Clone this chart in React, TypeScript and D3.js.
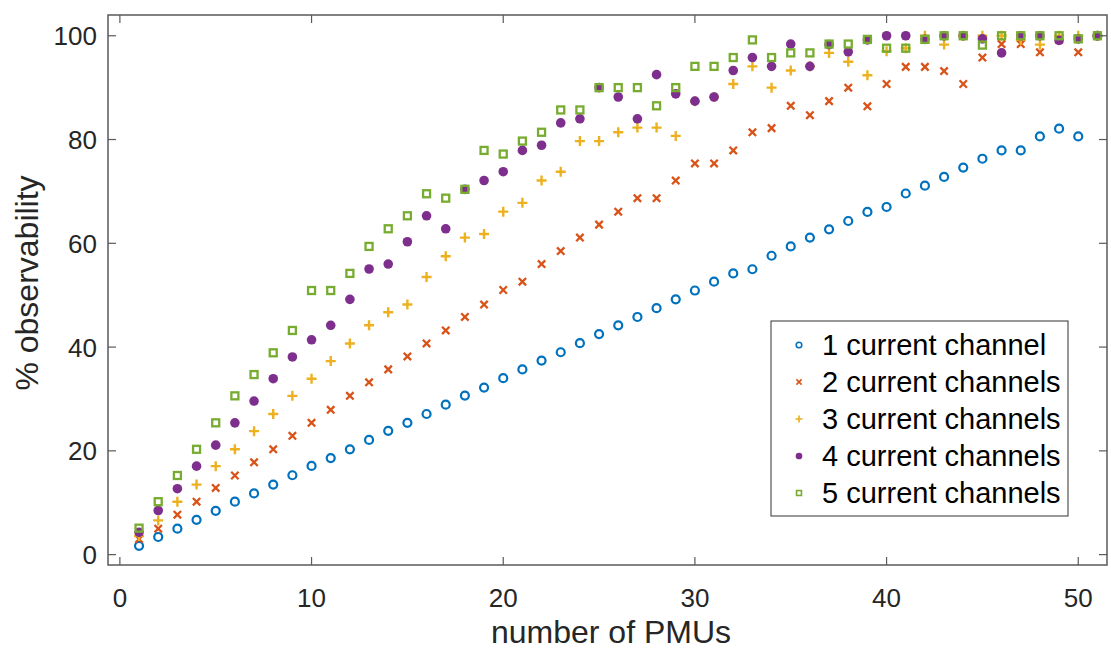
import React from "react";
import * as d3 from "d3";

// number of PMUs
const pmus = d3.range(1, 52);

// % observability, one array per number of current channels
const oneChannel = [
  1.7, 3.4, 5.0, 6.7, 8.45, 10.2, 11.8, 13.5, 15.3, 17.1, 18.6, 20.3, 22.1, 23.85, 25.4, 27.1, 28.9,
  30.65, 32.2, 34.0, 35.7, 37.4, 39.0, 40.75, 42.5, 44.2, 45.8, 47.5, 49.2, 50.9, 52.6, 54.2, 55.0,
  57.6, 59.4, 61.1, 62.7, 64.3, 66.05, 67.0, 69.6, 71.1, 72.8, 74.6, 76.3, 77.9, 77.9, 80.6, 82.1,
  80.6, 100,
];
const twoChannels = [
  3.0, 5.0, 7.7, 10.2, 12.85, 15.25, 17.8, 20.3, 22.9, 25.4, 27.9, 30.6, 33.2, 35.7, 38.2, 40.7, 43.2,
  45.8, 48.2, 51.0, 52.6, 56.0, 58.5, 61.1, 63.6, 66.1, 68.7, 68.7, 72.1, 75.4, 75.4, 77.9, 81.4,
  82.2, 86.5, 84.7, 87.4, 90.0, 86.4, 90.7, 94.0, 94.0, 93.2, 90.7, 95.8, 98.4, 98.4, 96.8, 99.2,
  96.8, 100,
];
const threeChannels = [
  3.6, 6.6, 10.2, 13.5, 17.05, 20.3, 23.8, 27.1, 30.6, 33.9, 37.3, 40.7, 44.2, 46.7, 48.2, 53.5, 57.5,
  61.1, 61.8, 66.1, 67.8, 72.1, 73.8, 79.7, 79.7, 81.4, 82.3, 82.3, 80.7, 87.4, 88.2, 90.7, 94.1,
  90.0, 93.3, 94.1, 96.7, 95.0, 92.4, 97.0, 97.6, 100, 98.3, 100, 100, 100, 99.2, 98.3, 100,
  100, 100,
];
const fourChannels = [
  4.3, 8.5, 12.7, 17.05, 21.1, 25.4, 29.6, 33.9, 38.1, 41.4, 44.2, 49.2, 55.05, 56.0, 60.3, 65.3, 62.8,
  70.4, 72.1, 73.8, 77.9, 78.9, 83.2, 84.0, 90.0, 88.2, 84.0, 92.5, 88.8, 87.4, 88.2, 93.3, 95.8,
  94.1, 98.4, 94.1, 98.3, 96.9, 99.2, 100, 100, 99.3, 100, 100, 99.4, 96.7, 100, 100, 99.1,
  99.4, 100,
];
const fiveChannels = [
  5.1, 10.2, 15.25, 20.3, 25.4, 30.6, 34.7, 38.9, 43.2, 50.9, 50.9, 54.2, 59.4, 62.8, 65.3, 69.55, 68.7,
  70.4, 77.9, 77.2, 79.7, 81.4, 85.7, 85.7, 90.0, 90.0, 90.0, 86.5, 90.0, 94.1, 94.1, 95.8, 99.2,
  95.8, 96.7, 96.7, 98.4, 98.4, 99.3, 97.6, 97.6, 99.3, 100, 100, 98.2, 100, 100, 100, 100,
  99.4, 100,
];

const seriesNames = [
  "1 current channel",
  "2 current channels",
  "3 current channels",
  "4 current channels",
  "5 current channels",
];
const seriesValues = [oneChannel, twoChannels, threeChannels, fourChannels, fiveChannels];
const seriesColors = ["#0072BD", "#D95319", "#EDB120", "#7E2F8E", "#77AC30"];
const seriesMarkers = ["circle", "x", "plus", "dot", "square"];

const xTicks = [0, 10, 20, 30, 40, 50];
const yTicks = [0, 20, 40, 60, 80, 100];

const W = 1111;
const H = 652;
const left = 108;
const right = 1107;
const top = 15;
const bottom = 565;
const font = "'Liberation Sans', Arial, sans-serif";
const ink = "#262626";

const x = d3.scaleLinear().domain([-0.62, 51.5]).range([left, right]);
const y = d3.scaleLinear().domain([-2, 104]).range([bottom, top]);

function Marker(props: { kind: string; cx: number; cy: number; color: string; s?: number }) {
  const { kind, cx, cy, color } = props;
  const s = props.s ?? 1;
  if (kind === "circle") {
    return <circle cx={cx} cy={cy} r={4 * s} fill="none" stroke={color} strokeWidth={2.2 * s} />;
  }
  if (kind === "x") {
    const a = 3.7 * s;
    return (
      <path
        d={`M${cx - a},${cy - a}L${cx + a},${cy + a}M${cx - a},${cy + a}L${cx + a},${cy - a}`}
        stroke={color}
        strokeWidth={2.3 * s}
      />
    );
  }
  if (kind === "plus") {
    const a = 5 * s;
    return (
      <path
        d={`M${cx - a},${cy}H${cx + a}M${cx},${cy - a}V${cy + a}`}
        stroke={color}
        strokeWidth={2.4 * s}
      />
    );
  }
  if (kind === "dot") {
    return <circle cx={cx} cy={cy} r={4.8 * s} fill={color} />;
  }
  const h = 3.5 * s;
  return (
    <rect
      x={cx - h}
      y={cy - h}
      width={2 * h}
      height={2 * h}
      fill="none"
      stroke={color}
      strokeWidth={2.3 * s}
    />
  );
}

export default function App() {
  const tickLen = 8;
  const legX = 771;
  const legY = 321;
  const legW = 297;
  const legH = 195;
  const rowH = 37;

  return (
    <svg
      width={W}
      height={H}
      style={{ position: "absolute", left: 0, top: 0, background: "#fff" }}
      fontFamily={font}
    >
      <rect x={0} y={0} width={W} height={H} fill="#fff" />

      {/* data */}
      {seriesValues.map((vals, si) => (
        <g key={si}>
          {vals.map((v, i) => (
            <Marker
              key={i}
              kind={seriesMarkers[si]}
              cx={x(pmus[i])}
              cy={y(v)}
              color={seriesColors[si]}
            />
          ))}
        </g>
      ))}

      {/* box */}
      <rect
        x={left}
        y={top}
        width={right - left}
        height={bottom - top}
        fill="none"
        stroke="#5a5a5a"
        strokeWidth={1.5}
      />

      {/* x ticks */}
      {xTicks.map((t) => (
        <g key={"x" + t}>
          <line x1={x(t)} x2={x(t)} y1={bottom} y2={bottom - tickLen} stroke="#5a5a5a" strokeWidth={1.2} />
          <line x1={x(t)} x2={x(t)} y1={top} y2={top + tickLen} stroke="#5a5a5a" strokeWidth={1.2} />
          <text x={x(t)} y={bottom + 42} textAnchor="middle" fontSize={26} fill={ink}>
            {t}
          </text>
        </g>
      ))}

      {/* y ticks */}
      {yTicks.map((t) => (
        <g key={"y" + t}>
          <line x1={left} x2={left + tickLen} y1={y(t)} y2={y(t)} stroke="#5a5a5a" strokeWidth={1.2} />
          <line x1={right} x2={right - tickLen} y1={y(t)} y2={y(t)} stroke="#5a5a5a" strokeWidth={1.2} />
          <text x={left - 11} y={y(t) + 9.5} textAnchor="end" fontSize={26} fill={ink}>
            {t}
          </text>
        </g>
      ))}

      {/* axis labels */}
      <text x={611} y={643} textAnchor="middle" fontSize={32} fill={ink}>
        number of PMUs
      </text>
      <text
        transform={`translate(38,${283}) rotate(-90)`}
        textAnchor="middle"
        fontSize={32}
        fill={ink}
      >
        % observability
      </text>

      {/* legend */}
      <rect x={legX} y={legY} width={legW} height={legH} fill="#fff" stroke="#333" strokeWidth={1} />
      {seriesNames.map((name, i) => {
        const cy = legY + 24 + i * rowH;
        return (
          <g key={name}>
            <Marker kind={seriesMarkers[i]} cx={legX + 28} cy={cy} color={seriesColors[i]} s={0.7} />
            <text x={legX + 51} y={cy + 10} fontSize={29} fill="#000">
              {name}
            </text>
          </g>
        );
      })}
    </svg>
  );
}
